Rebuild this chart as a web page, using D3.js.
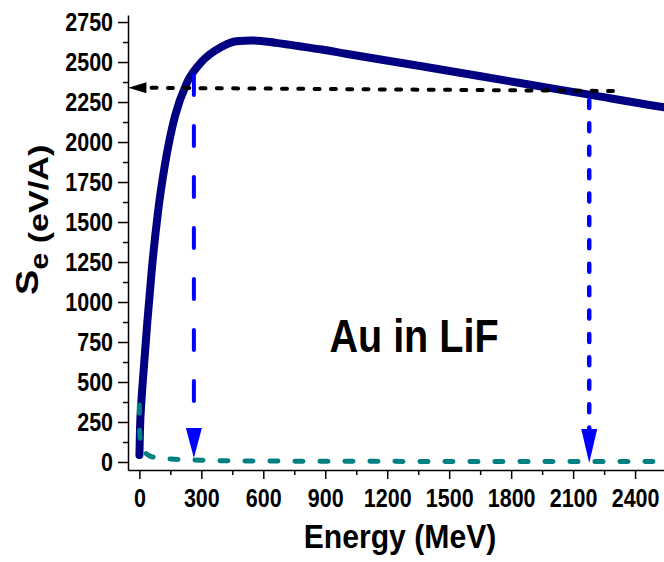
<!DOCTYPE html>
<html>
<head>
<meta charset="utf-8">
<script src="https://cdn.jsdelivr.net/npm/d3@7"></script>
<style>
  body { margin: 0; background: #fff; }
  text { font-family: "Liberation Sans", Arial, sans-serif; font-weight: bold; fill: #000; }
</style>
</head>
<body>
<svg id="chart"></svg>
<script>
// electronic stopping (navy)
var energySe = [0.3, 3, 10, 20, 37, 60, 90, 124, 172, 229, 302, 399, 470, 544, 657, 768, 883, 1000, 1359, 1843, 2178, 2501, 2540]
var se = [44, 200, 380, 560, 850, 1200, 1560, 1860, 2160, 2367, 2502, 2596, 2630, 2635, 2621, 2600, 2578, 2552, 2475, 2369, 2296, 2225, 2217]

// nuclear stopping (teal dashed)
var energySn = [0, 0.5, 2, 13, 60, 153, 274, 390, 700, 1200, 1800, 2540]
var sn = [356, 250, 169, 88, 33, 19, 12.5, 8, 5.5, 4, 3.5, 3]

var xTicks = [0, 300, 600, 900, 1200, 1500, 1800, 2100, 2400]
var xMinor = [150, 450, 750, 1050, 1350, 1650, 1950, 2250]
var yTicks = [0, 250, 500, 750, 1000, 1250, 1500, 1750, 2000, 2250, 2500, 2750]
var yMinor = [125, 375, 625, 875, 1125, 1375, 1625, 1875, 2125, 2375, 2625]

// annotation arrows, [from, to] in data units
var blackArrow = [[2293, 2319], [-53, 2340]]
var blueArrowLeft = [[264, 2419], [264, 25]]
var blueArrowRight = [[2178, 2263], [2178, -6]]

var width = 664
var height = 562

var svg = d3.select("#chart")
    .attr("width", width)
    .attr("height", height)

var x = d3.scaleLinear().domain([-55, 2540]).range([128, 664])
var y = d3.scaleLinear().domain([-50, 2794]).range([470, 15])

var squish = "scale(0.86,1)"

// axes
var xAxis = svg.append("g")
    .attr("transform", "translate(0," + y(-50) + ")")
    .call(d3.axisBottom(x).tickValues(xTicks).tickSize(9).tickSizeOuter(0).tickFormat(d3.format("d")))
xAxis.selectAll("text")
    .attr("y", 37).attr("dy", 0)
    .attr("transform", squish)
    .style("font-size", "25px")

svg.append("g")
    .attr("transform", "translate(0," + y(-50) + ")")
    .call(d3.axisBottom(x).tickValues(xMinor).tickSize(5).tickFormat(""))
    .select(".domain").remove()

var yAxis = svg.append("g")
    .attr("transform", "translate(" + x(-55) + ",0)")
    .call(d3.axisLeft(y).tickValues(yTicks).tickSize(10).tickSizeOuter(0).tickFormat(d3.format("d")))
yAxis.selectAll("text")
    .attr("x", -17.4).attr("dy", "0.35em")
    .attr("transform", squish)
    .style("font-size", "25px")

svg.append("g")
    .attr("transform", "translate(" + x(-55) + ",0)")
    .call(d3.axisLeft(y).tickValues(yMinor).tickSize(5).tickFormat(""))
    .select(".domain").remove()

svg.selectAll(".domain, .tick line")
    .attr("stroke", "#000")
    .attr("stroke-width", 1.5)

// curves
var lineSe = d3.line()
    .x(function(d, i) { return x(energySe[i]) })
    .y(function(d) { return y(d) })
    .curve(d3.curveMonotoneX)

svg.append("path")
    .datum(se)
    .attr("d", lineSe)
    .attr("fill", "none")
    .attr("stroke", "#000080")
    .attr("stroke-width", 8)
    .attr("stroke-linecap", "round")
    .attr("stroke-linejoin", "round")

var lineSn = d3.line()
    .x(function(d, i) { return x(energySn[i]) })
    .y(function(d) { return y(d) })
    .curve(d3.curveMonotoneX)

svg.append("path")
    .datum(sn)
    .attr("d", lineSn)
    .attr("fill", "none")
    .attr("stroke", "#008080")
    .attr("stroke-width", 5)
    .attr("stroke-linecap", "round")
    .attr("stroke-dasharray", "8,17")

// arrows
function arrow(pts, color, width, dash, headLen, headW) {
    var x0 = x(pts[0][0]), y0 = y(pts[0][1])
    var x1 = x(pts[1][0]), y1 = y(pts[1][1])
    var len = Math.hypot(x1 - x0, y1 - y0)
    var ux = (x1 - x0) / len, uy = (y1 - y0) / len
    var bx = x1 - ux * headLen, by = y1 - uy * headLen
    svg.append("line")
        .attr("x1", x0).attr("y1", y0)
        .attr("x2", bx + ux * 2).attr("y2", by + uy * 2)
        .attr("stroke", color)
        .attr("stroke-width", width)
        .attr("stroke-linecap", "round")
        .attr("stroke-dasharray", dash)
    svg.append("path")
        .attr("d", "M" + x1 + "," + y1 +
            "L" + (bx - uy * headW / 2) + "," + (by + ux * headW / 2) +
            "L" + (bx + uy * headW / 2) + "," + (by - ux * headW / 2) + "Z")
        .attr("fill", color)
}

arrow(blackArrow, "#000", 4, "5,11.3", 18, 11)
arrow(blueArrowLeft, "#0000ff", 4, "20,31", 30, 16)
arrow(blueArrowRight, "#0000ff", 4.5, "8,15.4", 34, 16)

// labels
svg.append("text")
    .attr("transform", "translate(414,352) " + squish)
    .attr("text-anchor", "middle")
    .style("font-size", "46px")
    .text("Au in LiF")

svg.append("text")
    .attr("transform", "translate(400,548) scale(0.9,1)")
    .attr("text-anchor", "middle")
    .style("font-size", "33.5px")
    .text("Energy (MeV)")

var ylab = svg.append("text")
    .attr("transform", "translate(38,295) rotate(-90) scale(1.22,1)")
ylab.append("tspan").style("font-size", "31px").text("S")
ylab.append("tspan").style("font-size", "25px").attr("dy", 10).text("e")
ylab.append("tspan").style("font-size", "28px").text(" (eV/A)")
</script>
</body>
</html>
